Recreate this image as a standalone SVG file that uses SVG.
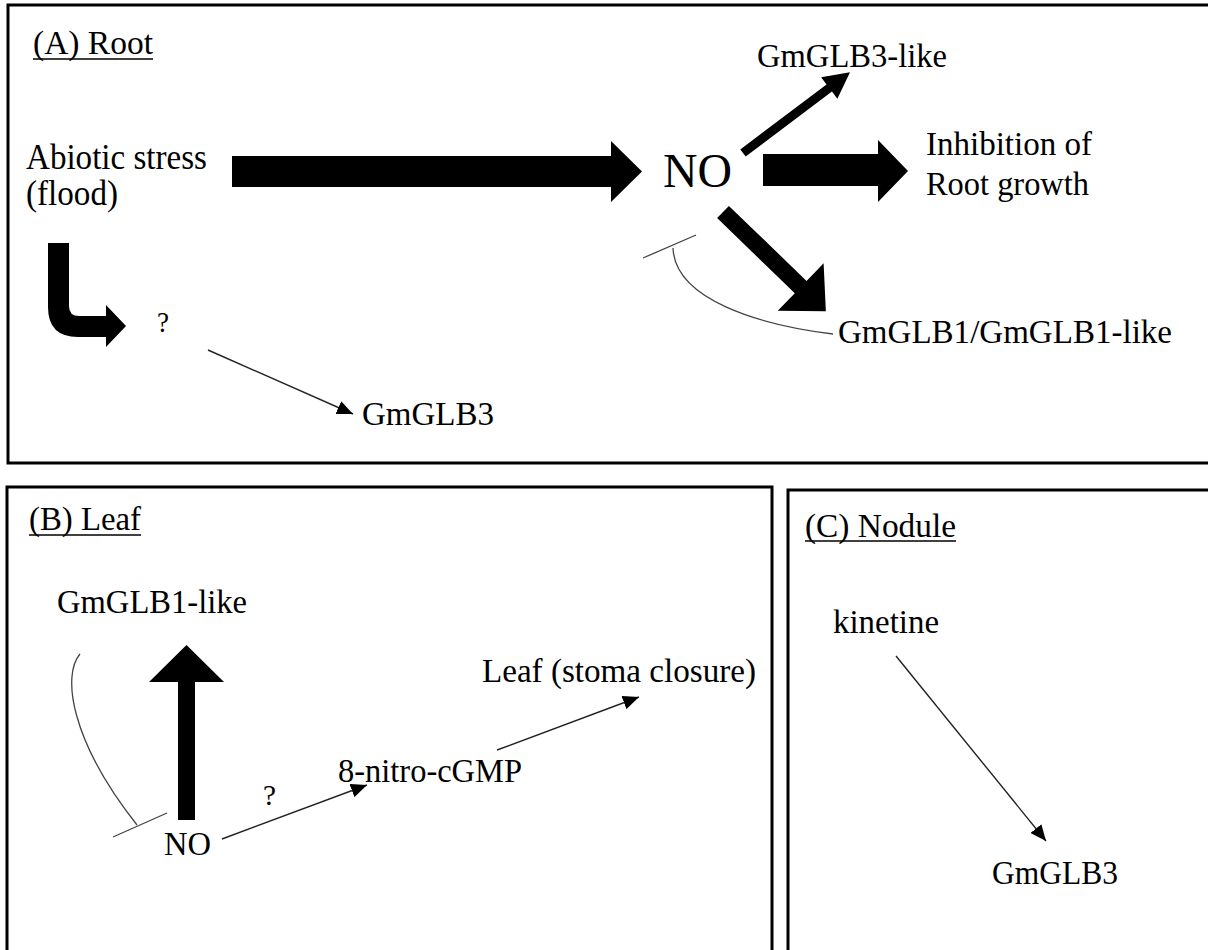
<svg xmlns="http://www.w3.org/2000/svg" width="1208" height="950" viewBox="0 0 1208 950" font-family="Liberation Serif, serif">
<style>
.box{fill:none;stroke:#000;stroke-width:3}
.t{font-family:'Liberation Serif',serif;font-size:33px;fill:#000}
.q{font-size:30px}
.ul{stroke:#000;stroke-width:1.5}
.thin{fill:none;stroke:#222;stroke-width:1.4}
.inh{fill:none;stroke:#444;stroke-width:1.3}
.fat{fill:#000;stroke:none}
</style>
<defs>
<marker id="ah" markerUnits="userSpaceOnUse" markerWidth="18" markerHeight="14" refX="16" refY="7" orient="auto">
<path d="M0,0 L16,7 L0,14 Z" fill="#000"/>
</marker>
</defs>
<rect x="0" y="0" width="1208" height="950" fill="#fff"/>

<g id="panelA">
<rect class="box" x="8" y="5" width="1210" height="458"/>
<text class="t" x="33" y="54" textLength="120" lengthAdjust="spacingAndGlyphs">(A) Root</text>
<line class="ul" x1="33" y1="59" x2="153" y2="59"/>
</g>
<g id="panelB">
<rect class="box" x="7" y="487" width="765" height="480"/>
<text class="t" x="29" y="530" textLength="112" lengthAdjust="spacingAndGlyphs">(B) Leaf</text>
<line class="ul" x1="29" y1="535" x2="141" y2="535"/>
</g>
<g id="panelC">
<rect class="box" x="788" y="490" width="430" height="480"/>
<text class="t" x="805" y="537" textLength="151" lengthAdjust="spacingAndGlyphs">(C) Nodule</text>
<line class="ul" x1="805" y1="541" x2="956" y2="541"/>
</g>

<g id="n-abiotic"><text class="t" x="26" y="169" style="font-size:35px" textLength="181" lengthAdjust="spacingAndGlyphs">Abiotic stress</text><text class="t" x="26" y="205" style="font-size:35px" textLength="92" lengthAdjust="spacingAndGlyphs">(flood)</text></g>
<g id="n-noA"><text class="t" x="663" y="187" style="font-size:48px" textLength="69" lengthAdjust="spacingAndGlyphs">NO</text></g>
<g id="n-glb3like"><text class="t" x="757" y="67" textLength="190" lengthAdjust="spacingAndGlyphs">GmGLB3-like</text></g>
<g id="n-inhib"><text class="t" x="926" y="155" textLength="166" lengthAdjust="spacingAndGlyphs">Inhibition of</text><text class="t" x="926" y="195" textLength="163" lengthAdjust="spacingAndGlyphs">Root growth</text></g>
<g id="n-glb1"><text class="t" x="838" y="343" textLength="334" lengthAdjust="spacingAndGlyphs">GmGLB1/GmGLB1-like</text></g>
<g id="n-qA"><text class="t q" x="157" y="332" textLength="12" lengthAdjust="spacingAndGlyphs">?</text></g>
<g id="n-glb3A"><text class="t" x="362" y="425" textLength="132" lengthAdjust="spacingAndGlyphs">GmGLB3</text></g>

<g id="n-glb1likeB"><text class="t" x="57" y="613" textLength="190" lengthAdjust="spacingAndGlyphs">GmGLB1-like</text></g>
<g id="n-leaf"><text class="t" x="482" y="682" textLength="274" lengthAdjust="spacingAndGlyphs">Leaf (stoma closure)</text></g>
<g id="n-nitro"><text class="t" x="338" y="782" textLength="184" lengthAdjust="spacingAndGlyphs">8-nitro-cGMP</text></g>
<g id="n-qB"><text class="t q" x="263" y="805" textLength="13" lengthAdjust="spacingAndGlyphs">?</text></g>
<g id="n-noB"><text class="t" x="164" y="855" textLength="47" lengthAdjust="spacingAndGlyphs">NO</text></g>

<g id="n-kinetine"><text class="t" x="833" y="633" textLength="106" lengthAdjust="spacingAndGlyphs">kinetine</text></g>
<g id="n-glb3C"><text class="t" x="992" y="884" textLength="126" lengthAdjust="spacingAndGlyphs">GmGLB3</text></g>

<g id="connectors">
<polygon class="fat" points="232,156 611,156 611,141 642,171.5 611,202 611,187 232,187"/>
<polygon class="fat" points="763,154 878,154 878,140 908,171 878,202 878,186 763,186"/>
<path class="fat" d="M48,243 H69 V306 Q69,316 79,316 H106 V305 L126,326 L106,347 V337 H78 Q48,337 48,307 Z"/>
<polygon class="fat" transform="translate(743,153) rotate(-37)" points="0,-4.5 108,-4.5 108,-13.5 134,0 108,13.5 108,4.5 0,4.5"/>
<polygon class="fat" transform="translate(723,212) rotate(44)" points="0,-8.5 108,-8.5 108,-33 143,0 108,33 108,8.5 0,8.5"/>
<polygon class="fat" points="178,820 178,682 149,682 186.5,645 224,682 195,682 195,820"/>

<line class="thin" x1="208" y1="350" x2="353" y2="414" marker-end="url(#ah)"/>
<line class="thin" x1="222" y1="839" x2="367" y2="785" marker-end="url(#ah)"/>
<line class="thin" x1="497" y1="750" x2="639" y2="697" marker-end="url(#ah)"/>
<line class="thin" x1="896" y1="656" x2="1046" y2="841" marker-end="url(#ah)"/>

<line class="inh" x1="643" y1="258" x2="696" y2="235"/>
<path class="inh" d="M673,248 C675,300 760,325 833,334"/>
<line class="inh" x1="113" y1="837" x2="167" y2="813"/>
<path class="inh" d="M80,654 C62,675 70,740 137,825"/>
</g>
</svg>
